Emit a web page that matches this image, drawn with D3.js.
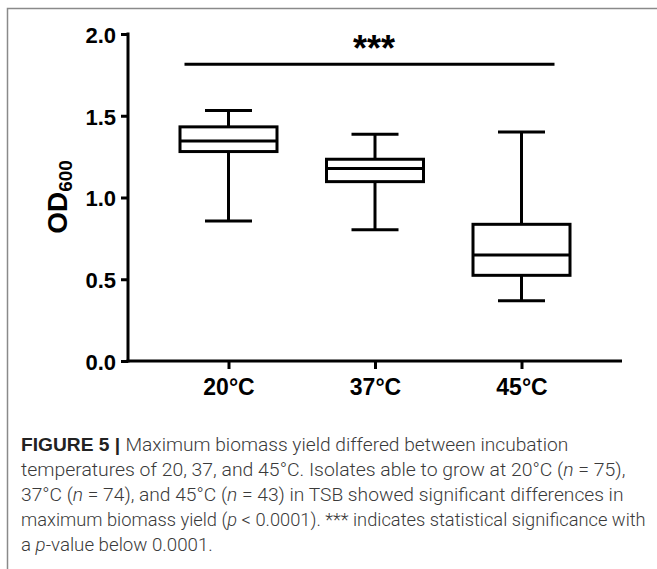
<!DOCTYPE html>
<html><head><meta charset="utf-8">
<script src="https://cdn.jsdelivr.net/npm/d3@7"></script>
<style>html,body{margin:0;padding:0;background:#fff;}svg{display:block;}</style>
</head><body>
<script>
const categories = ["20°C", "37°C", "45°C"];
const whiskerMin = [0.857, 0.802, 0.369];
const q1 = [1.281, 1.097, 0.524];
const median = [1.346, 1.177, 0.649];
const q3 = [1.432, 1.234, 0.836];
const whiskerMax = [1.532, 1.387, 1.401];
const yTicks = [0.0, 0.5, 1.0, 1.5, 2.0];
const sigLevel = 1.815;
const sigLabel = "***";
const captionLines = [
  [{t:"FIGURE 5 | ", b:true}, {t:"Maximum biomass yield differed between incubation"}],
  [{t:"temperatures of 20, 37, and 45°C. Isolates able to grow at 20°C ("}, {t:"n", i:true}, {t:" = 75),"}],
  [{t:"37°C ("}, {t:"n", i:true}, {t:" = 74), and 45°C ("}, {t:"n", i:true}, {t:" = 43) in TSB showed significant differences in"}],
  [{t:"maximum biomass yield ("}, {t:"p", i:true}, {t:" < 0.0001). *** indicates statistical significance with"}],
  [{t:"a "}, {t:"p", i:true}, {t:"-value below 0.0001."}]
];
const captionWidths = [548, 605, 603, 625, 192];

const W = 657, H = 569;
const svg = d3.select("body").append("svg").attr("width", W).attr("height", H);

// frame
svg.append("path").attr("d", `M7.5,${H} L7.5,8.5 L${W},8.5`)
  .attr("fill","none").attr("stroke","#8a8a8a").attr("stroke-width",1.5);

const x0 = 128, x1 = 622, yTop = 34, yBot = 361;
const x = d3.scalePoint().domain(categories).range([x0, x1]).padding(0.686);
const y = d3.scaleLinear().domain([0, 2]).range([yBot, yTop]);
const font = "'Liberation Sans', Arial, Helvetica, sans-serif";
const sw = 3;

// y axis
const yAxis = svg.append("g").attr("transform", `translate(${x0},0)`)
  .call(d3.axisLeft(y).tickValues(yTicks).tickFormat(d3.format(".1f")).tickSize(7).tickPadding(5));
yAxis.select(".domain").attr("stroke","#000").attr("stroke-width",sw).attr("d", `M0,${yTop-1.5}V${yBot+1.5}`);
yAxis.selectAll(".tick line").attr("stroke","#000").attr("stroke-width",sw);
yAxis.selectAll(".tick text").attr("font-family",font).attr("font-weight","bold").attr("font-size",22).attr("fill","#000").attr("dy","0.38em");

// x axis
const xAxis = svg.append("g").attr("transform", `translate(0,${yBot})`)
  .call(d3.axisBottom(x).tickSize(8).tickPadding(10));
xAxis.select(".domain").attr("stroke","#000").attr("stroke-width",sw).attr("d", `M${x0-1.5},0H${x1}`);
xAxis.selectAll(".tick line").attr("stroke","#000").attr("stroke-width",sw);
xAxis.selectAll(".tick text").attr("font-family",font).attr("font-weight","bold").attr("font-size",23).attr("fill","#000");

// y label
const yl = svg.append("text").attr("transform","translate(67,197) rotate(-90)")
  .attr("text-anchor","middle").attr("font-family",font).attr("font-weight","bold").attr("font-size",28).attr("fill","#000");
yl.append("tspan").text("OD");
yl.append("tspan").attr("font-size",19).attr("dy",5).text("600");

// boxes
const boxW = 97, capW = 47;
const g = svg.append("g");
categories.forEach((c, i) => {
  const cx = x(c);
  const s = g.append("g").attr("stroke","#000").attr("stroke-width",sw).attr("fill","none");
  s.append("line").attr("x1",cx).attr("x2",cx).attr("y1",y(whiskerMax[i])).attr("y2",y(q3[i]));
  s.append("line").attr("x1",cx).attr("x2",cx).attr("y1",y(q1[i])).attr("y2",y(whiskerMin[i]));
  s.append("line").attr("x1",cx-capW/2).attr("x2",cx+capW/2).attr("y1",y(whiskerMax[i])).attr("y2",y(whiskerMax[i]));
  s.append("line").attr("x1",cx-capW/2).attr("x2",cx+capW/2).attr("y1",y(whiskerMin[i])).attr("y2",y(whiskerMin[i]));
  s.append("rect").attr("x",cx-boxW/2).attr("width",boxW).attr("y",y(q3[i])).attr("height",y(q1[i])-y(q3[i]));
  s.append("line").attr("x1",cx-boxW/2).attr("x2",cx+boxW/2).attr("y1",y(median[i])).attr("y2",y(median[i]));
});

// significance bar
svg.append("line").attr("x1",x(categories[0])-44).attr("x2",x(categories[2])+33)
  .attr("y1",y(sigLevel)).attr("y2",y(sigLevel)).attr("stroke","#000").attr("stroke-width",sw);
svg.append("text").attr("x",x(categories[1])-1).attr("y",y(sigLevel)-3).attr("text-anchor","middle")
  .attr("font-family",font).attr("font-weight","bold").attr("font-size",36).attr("fill","#000").text(sigLabel);

// caption
const capFont = "Roboto, 'Liberation Sans', Arial, sans-serif";
captionLines.forEach((line, k) => {
  const t = svg.append("text").attr("font-family",capFont).attr("font-weight",300).attr("font-size",19).attr("fill","#3a3a3a");
  line.forEach(seg => {
    const ts = t.append("tspan").text(seg.t);
    if (seg.b) ts.attr("font-family","'Liberation Sans', Arial, sans-serif").attr("font-weight","bold").attr("fill","#222");
    if (seg.i) ts.attr("font-style","italic");
  });
  const nat = t.node().getComputedTextLength();
  const sx = captionWidths[k] / nat;
  t.attr("transform", `translate(21,${451 + k*25}) scale(${sx},1)`);
});
</script>
</body></html>
